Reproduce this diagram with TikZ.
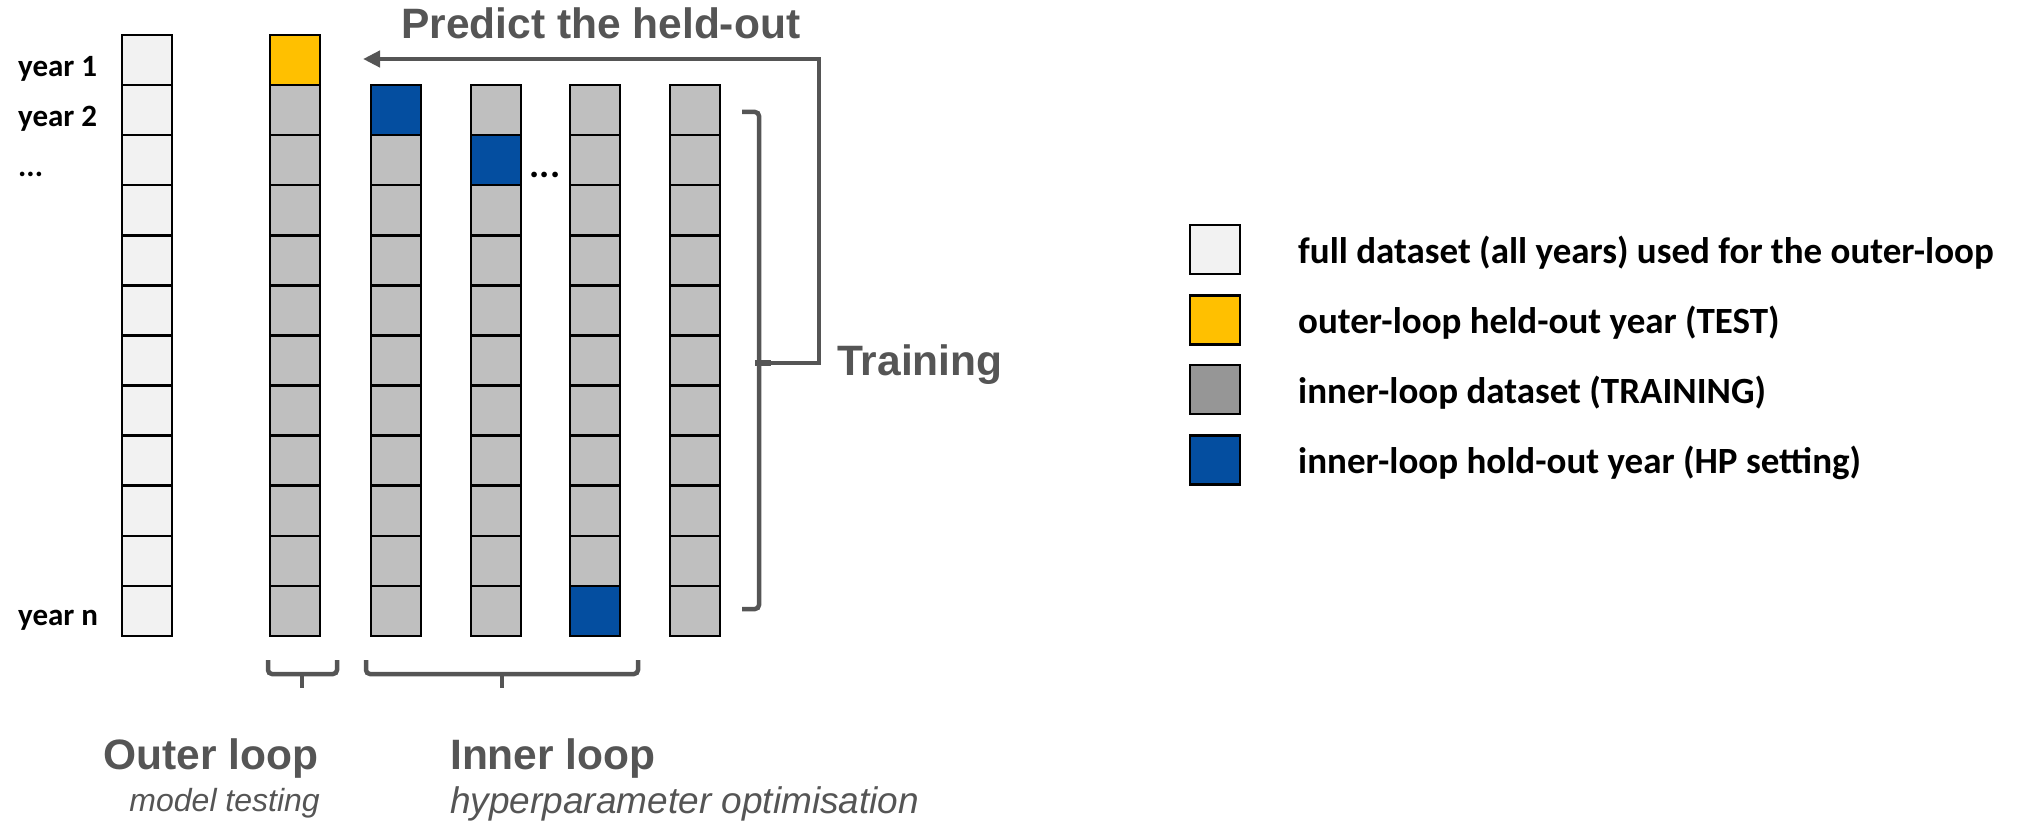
\documentclass[tikz,border=0pt]{standalone}
\usepackage{fontspec}
\setmainfont{Liberation Sans}
\newfontfamily\labelfont{Carlito}
\usetikzlibrary{arrows.meta}
\definecolor{cellgray}{RGB}{191,191,191}
\definecolor{celllight}{RGB}{242,242,242}
\definecolor{cellyellow}{RGB}{255,192,0}
\definecolor{cellblue}{RGB}{4,78,160}
\definecolor{legendgray}{RGB}{150,150,150}
\definecolor{ink}{RGB}{85,85,85}
\begin{document}
\begin{tikzpicture}[x=1pt,y=-1pt,
  cell/.style={draw=black,line width=2.4pt,minimum width=50pt,minimum height=50pt,inner sep=0pt,outer sep=0pt},
  keybox/.style={draw=black,line width=2.6pt,minimum width=50pt,minimum height=49pt,inner sep=0pt},
  yearlabel/.style={font=\labelfont\bfseries\fontsize{31}{36}\selectfont,anchor=base west,inner sep=0pt},
  keytext/.style={font=\labelfont\bfseries\fontsize{37}{42}\selectfont,anchor=base west,inner sep=0pt},
  headline/.style={font=\bfseries\fontsize{42.5}{50}\selectfont,text=ink,inner sep=0pt},
  subline/.style={font=\itshape\fontsize{32}{38}\selectfont,text=ink,inner sep=0pt},
  brace/.style={draw=ink,line width=4.5pt,rounded corners=4pt},
  flow/.style={draw=ink,line width=4.5pt,-{Triangle[length=17pt,width=16pt]}}]
\useasboundingbox (0,0) rectangle (2027,824);

% full dataset column
\foreach \r in {1,...,12}
  \node[cell,fill=celllight] (c1-\r) at (147,{35+50.08*(\r-0.5)}) {};

% outer-loop column: held-out year on top
\node[cell,fill=cellyellow] (c2-1) at (295,{35+50.08*0.5}) {};
\foreach \r in {2,...,12}
  \node[cell,fill=cellgray] (c2-\r) at (295,{35+50.08*(\r-0.5)}) {};

% inner-loop columns, each with its hold-out year
\foreach \c/\x/\b in {3/396/2,4/496/3,5/595/12,6/695/0}
  \foreach \r in {2,...,12}{
    \ifnum\r=\b\relax\def\cellfill{cellblue}\else\def\cellfill{cellgray}\fi
    \node[cell,fill=\cellfill] (c\c-\r) at (\x,{35+50.08*(\r-0.5)}) {};
  }

% year labels
\node[yearlabel] (y1) at (18,{35+50.08*0.5+16}) {year 1};
\node[yearlabel] (y2) at (18,{35+50.08*1.5+16}) {year 2};
\node[yearlabel] (y3) at (18,{35+50.08*2.5+16}) {...};
\node[yearlabel] (yn) at (18,{35+50.08*11.5+15}) {year n};
\node[yearlabel,anchor=base,font=\labelfont\bfseries\fontsize{38}{42}\selectfont] (dots) at (545,{35+50.08*2.5+17}) {...};

% training bracket and feedback arrow
\coordinate (tb-top) at (742,112);
\coordinate (tb-bot) at (742,609);
\coordinate (tb-mid) at (759,363);
\coordinate (tb-out) at (819,363);
\coordinate (tb-up) at (819,59);
\coordinate (tip) at (363,59);
\draw[brace] (tb-top) -- (759,112) -- (759,609) -- (tb-bot);
\draw[draw=ink,line width=6pt] (755,363) -- (771,363);
\draw[flow] (tb-mid) -- (tb-out) -- (tb-up) -- (tip);

\node[headline,anchor=base west] (predict) at (401,39) {Predict the held-out};
\node[headline,anchor=base west] (training) at (837,375) {Training};

% loop braces below the columns
\coordinate (ob-l) at (268,660);
\coordinate (ob-r) at (337,660);
\coordinate (ob-s) at (302,688);
\coordinate (ib-l) at (366,660);
\coordinate (ib-r) at (638,660);
\coordinate (ib-s) at (502,688);
\draw[brace] (ob-l) -- (268,674) -- (337,674) -- (ob-r);
\draw[draw=ink,line width=4.5pt] (302,674) -- (ob-s);
\draw[brace] (ib-l) -- (366,674) -- (638,674) -- (ib-r);
\draw[draw=ink,line width=4.5pt] (502,674) -- (ib-s);

\node[headline,anchor=base west] (outer) at (103,769) {Outer loop};
\node[subline,anchor=base east] (outersub) at (320,811) {model testing};
\node[headline,anchor=base west] (inner) at (450,769) {Inner loop};
\node[subline,anchor=base west,font=\itshape\fontsize{37}{42}\selectfont] (innersub) at (450,813) {hyperparameter optimisation};

% legend
\node[keybox,fill=celllight] (k1) at (1215,249.5) {};
\node[keybox,fill=cellyellow] (k2) at (1215,320) {};
\node[keybox,fill=legendgray] (k3) at (1215,389.5) {};
\node[keybox,fill=cellblue] (k4) at (1215,460) {};
\node[keytext] (t1) at (1298,263) {full dataset (all years) used for the outer-loop};
\node[keytext] (t2) at (1298,333) {outer-loop held-out year (TEST)};
\node[keytext] (t3) at (1298,403) {inner-loop dataset (TRAINING)};
\node[keytext] (t4) at (1298,473) {inner-loop hold-out year (HP setting)};
\end{tikzpicture}
\end{document}
